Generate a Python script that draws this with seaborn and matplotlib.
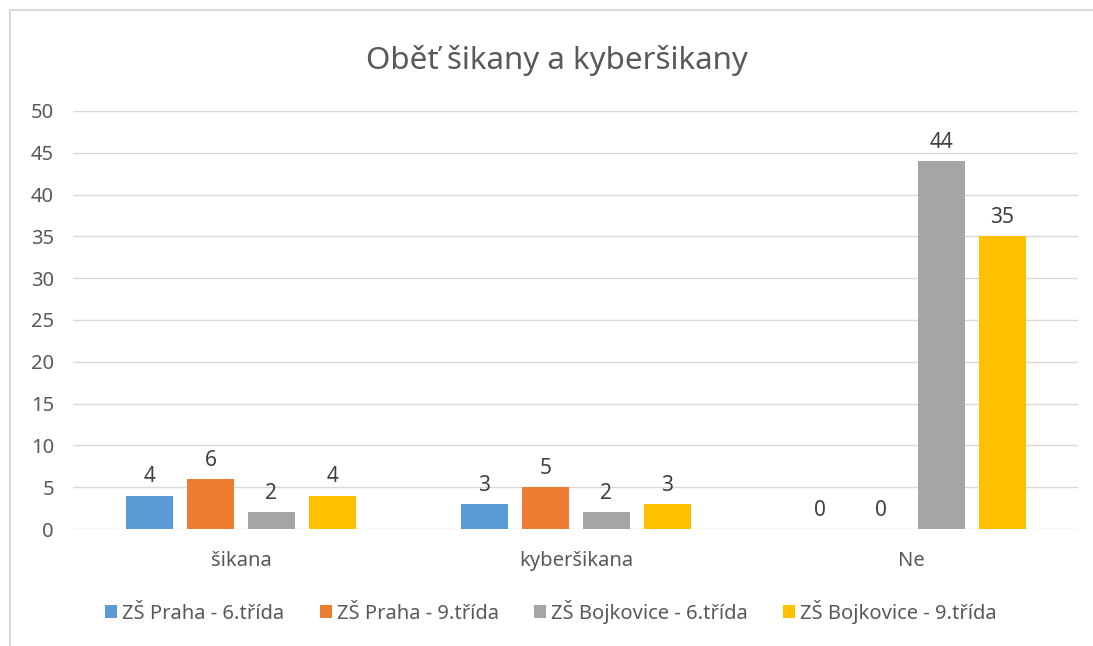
import matplotlib
matplotlib.use("Agg")
import matplotlib.pyplot as plt
import seaborn as sns
import pandas as pd
from matplotlib.patches import Rectangle

categories = ["šikana", "kyberšikana", "Ne"]
series = ["ZŠ Praha - 6.třída", "ZŠ Praha - 9.třída", "ZŠ Bojkovice - 6.třída", "ZŠ Bojkovice - 9.třída"]
praha6 = [4, 3, 0]
praha9 = [6, 5, 0]
bojk6 = [2, 2, 44]
bojk9 = [4, 3, 35]
colors = ["#5B9BD5", "#ED7D31", "#A5A5A5", "#FFC000"]
yticks = [0, 5, 10, 15, 20, 25, 30, 35, 40, 45, 50]

rows = []
for s, vals in zip(series, [praha6, praha9, bojk6, bojk9]):
    for c, v in zip(categories, vals):
        rows.append({"cat": c, "series": s, "value": v})
df = pd.DataFrame(rows)

sns.set_theme(style="white")
plt.rcParams["font.family"] = ["Noto Sans", "DejaVu Sans"]
txt = "#595959"

fig = plt.figure(figsize=(10.93, 6.46), dpi=100)
ax = fig.add_axes([0.0672, 0.1811, 0.9195, 0.6471])
sns.barplot(data=df, x="cat", y="value", hue="series", order=categories,
            hue_order=series, palette=colors, width=0.728, gap=0.23,
            ax=ax, legend=False, linewidth=0, saturation=1)
ax.set_ylim(0, 50)
ax.set_xlim(-0.5, 2.5)
ax.set_yticks(yticks)
ax.yaxis.grid(True, color="#D9D9D9", linewidth=1)
ax.set_axisbelow(True)
for sp in ax.spines.values():
    sp.set_visible(False)
ax.set_xlabel("")
ax.set_ylabel("")
ax.tick_params(axis="y", length=0, pad=14, labelsize=14.5, labelcolor=txt)
ax.tick_params(axis="x", length=0, pad=16, labelsize=14.5, labelcolor=txt)
for cont in ax.containers:
    ax.bar_label(cont, padding=6, fontsize=15, color="#404040")

fig.text(0.51, 0.907, "Oběť šikany a kyberšikany", ha="center", va="center",
         fontsize=22.5, color=txt)

handles = [Rectangle((0, 0), 1, 1, facecolor=c, edgecolor="none") for c in colors]
fig.legend(handles, series, loc="center", bbox_to_anchor=(0.504, 0.053), ncol=4,
           frameon=False, fontsize=14.5, labelcolor=txt, handlelength=0.6,
           handleheight=0.6, handletextpad=0.25, columnspacing=1.75)

fig.add_artist(Rectangle((0.0092, -0.05), 1.05, 1.035, transform=fig.transFigure,
                         fill=False, edgecolor="#D9D9D9", linewidth=1.5))

fig.savefig("out.png", dpi=100)
